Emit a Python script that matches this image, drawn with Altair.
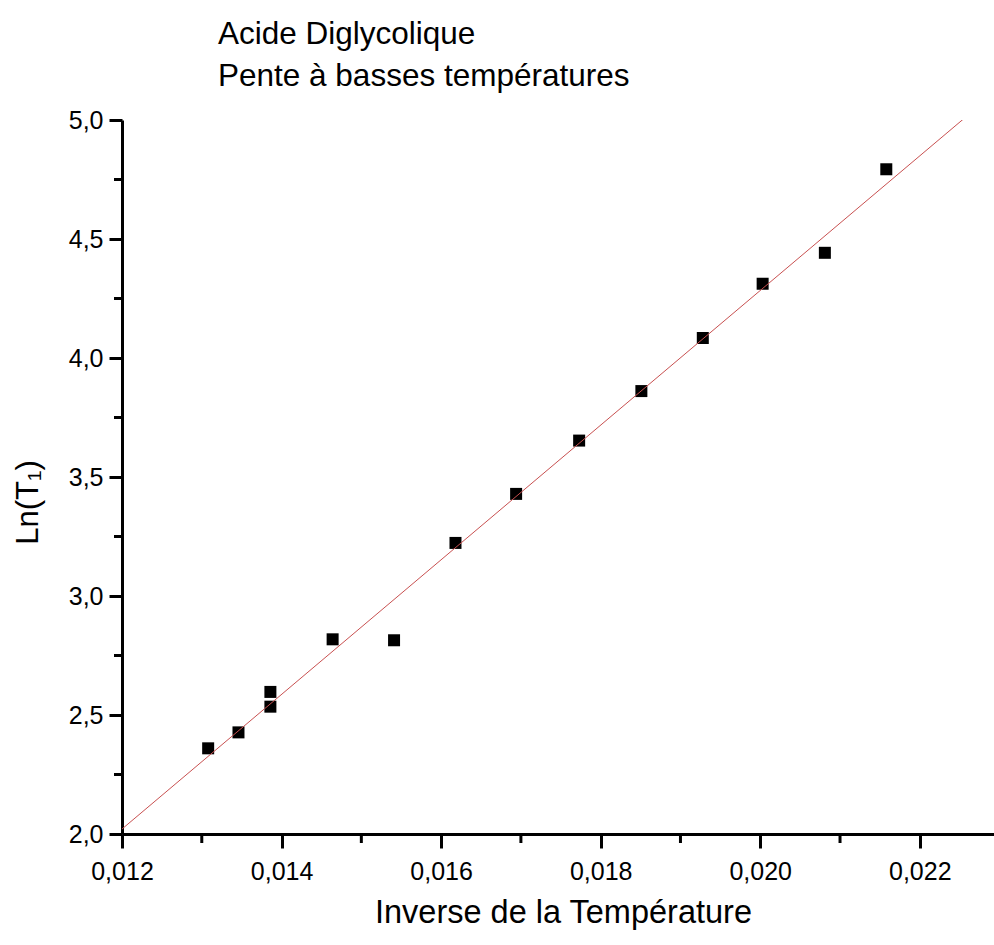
import altair as alt
import pandas as pd

# Data (inverse temperature, ln(T1))
inv_temp = [0.01308, 0.01346, 0.01386, 0.01386, 0.01464, 0.01541, 0.01618,
            0.01694, 0.01773, 0.01851, 0.01928, 0.02003, 0.02081, 0.02158]
ln_t1 = [2.360, 2.427, 2.597, 2.535, 2.818, 2.814, 3.223,
         3.429, 3.653, 3.861, 4.084, 4.312, 4.442, 4.793]

x_domain = [0.012, 0.02293]
y_domain = [2.0, 5.0]
x_major_ticks = [0.012, 0.014, 0.016, 0.018, 0.020, 0.022]
x_minor_ticks = [0.013, 0.015, 0.017, 0.019, 0.021]
y_major_ticks = [2.0, 2.5, 3.0, 3.5, 4.0, 4.5, 5.0]
y_minor_ticks = [2.25, 2.75, 3.25, 3.75, 4.25, 4.75]

title_lines = ["Acide Diglycolique", "Pente à basses températures"]
x_title = "Inverse de la Température"
y_title = "Ln(T₁)"

df = pd.DataFrame({"x": inv_temp, "y": ln_t1})
xminor_df = pd.DataFrame({"x": x_minor_ticks})
yminor_df = pd.DataFrame({"y": y_minor_ticks})

FONT = "Liberation Sans"
W, H = 872, 714

x_axis = alt.Axis(
    values=x_major_ticks,
    labelExpr="replace(format(datum.value, '.3f'), '.', ',')",
    tickSize=14, tickWidth=3, tickColor="black",
    domainWidth=3, domainColor="black",
    labelFont=FONT, labelFontSize=25, labelColor="black", labelPadding=11,
    labelFlush=False, labelOverlap=False,
    grid=False,
    title=x_title, titleFont=FONT, titleFontSize=32.5, titleFontWeight="normal",
    titleColor="black", titleX=441, titleY=88, titleAlign="center",
    titleBaseline="alphabetic",
)
y_axis = alt.Axis(
    values=y_major_ticks,
    labelExpr="replace(format(datum.value, '.1f'), '.', ',')",
    tickSize=13, tickWidth=3, tickColor="black",
    domainWidth=3, domainColor="black",
    labelFont=FONT, labelFontSize=25, labelColor="black", labelPadding=6,
    labelFlush=False, labelOverlap=False,
    grid=False,
    title=y_title, titleFont=FONT, titleFontSize=31, titleFontWeight="normal",
    titleColor="black", titleX=-85, titleY=382, titleAlign="center",
    titleBaseline="alphabetic", titleAngle=270,
)

x_scale = alt.Scale(domain=x_domain, nice=False, zero=False)
y_scale = alt.Scale(domain=y_domain, nice=False, zero=False)
X = alt.X("x:Q", scale=x_scale, axis=x_axis)
Y = alt.Y("y:Q", scale=y_scale, axis=y_axis)

points = alt.Chart(df).mark_square(size=144, color="black", opacity=1, filled=True).encode(x=X, y=Y)

fit = alt.Chart(df).transform_regression(
    "x", "y", extent=x_domain
).mark_line(color="#c85050", strokeWidth=1, clip=True).encode(x=X, y=Y)

x_minor = alt.Chart(xminor_df).mark_rule(color="black", strokeWidth=3).encode(
    x=X,
    y=alt.value(H), y2=alt.value(H + 9),
)
y_minor = alt.Chart(yminor_df).mark_rule(color="black", strokeWidth=3).encode(
    y=Y,
    x=alt.value(0), x2=alt.value(-8),
)

chart = alt.layer(points, fit, x_minor, y_minor).properties(
    width=W,
    height=H,
    view=alt.ViewBackground(stroke="transparent", strokeWidth=0, strokeOpacity=0),
    title=alt.TitleParams(
        text=title_lines, anchor="start", frame="group", dx=96, offset=16,
        font=FONT, fontSize=31.5, fontWeight="normal", color="black", lineHeight=42,
    ),
    autosize=alt.AutoSizeParams(type="none"),
    padding={"left": 122, "top": 120, "right": 0, "bottom": 111},
).configure_view(
    stroke="transparent", strokeWidth=0, strokeOpacity=0
).configure_axis(grid=False).configure(background="white")

chart.save("out.html", embed_options={"renderer": "svg", "actions": False})
